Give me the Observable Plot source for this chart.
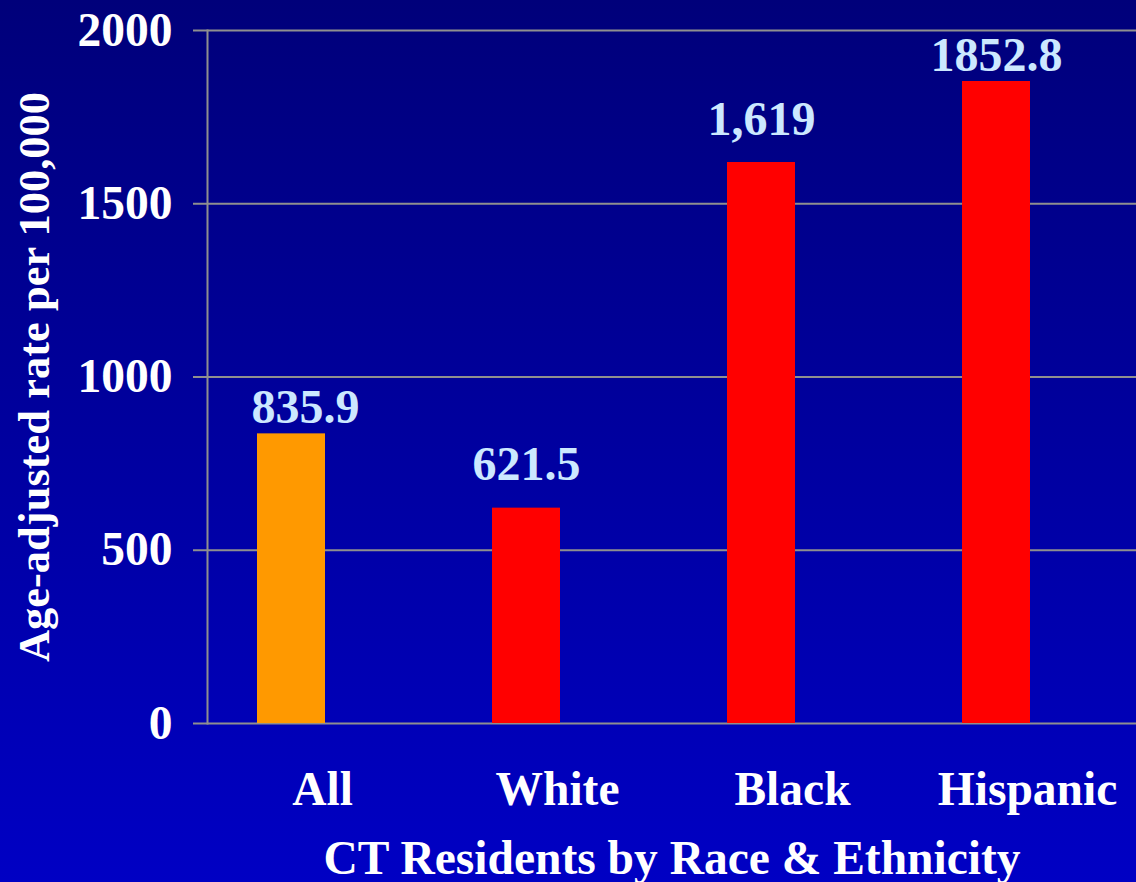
<!DOCTYPE html>
<html>
<head>
<meta charset="utf-8">
<script src="https://cdn.jsdelivr.net/npm/d3@7"></script>
<script src="https://cdn.jsdelivr.net/npm/@observablehq/plot@0.6"></script>
<style>
  html, body { margin: 0; padding: 0; }
  body { width: 1136px; height: 882px; overflow: hidden;
         background: linear-gradient(to bottom, #00007a 0%, #0000c4 100%); }
  #chart svg { display: block; background: transparent; }
</style>
</head>
<body>
<div id="chart"></div>
<script>
const categories = ["All", "White", "Black", "Hispanic"];
const values = [835.9, 621.5, 1619, 1852.8];
const valueLabels = ["835.9", "621.5", "1,619", "1852.8"];
const barColors = ["#ff9900", "#ff0000", "#ff0000", "#ff0000"];
const yTicks = [0, 500, 1000, 1500, 2000];

const data = categories.map((c, i) => ({cat: c, value: values[i], label: valueLabels[i], color: barColors[i]}));

const font = "'Liberation Serif', 'Times New Roman', serif";
const labelStyle = {x: "cat", y: "value", text: "label", lineAnchor: "bottom",
  fill: "#cce8ff", fontSize: 48, fontWeight: "bold"};
const chart = Plot.plot({
  width: 1136,
  height: 882,
  marginTop: 30,
  marginBottom: 159,
  marginLeft: 207,
  marginRight: 0,
  style: {fontFamily: font, fontWeight: "bold", fontSize: "47.5px", color: "white", background: "transparent", overflow: "visible"},
  x: {domain: categories, range: [174, 1114], paddingInner: 0.71, paddingOuter: 0.355},
  y: {domain: [0, 2000]},
  marks: [
    Plot.gridY(yTicks, {stroke: "#8f8f8f", strokeOpacity: 1, strokeWidth: 2}),
    Plot.frame({anchor: "left", stroke: "#8f8f8f", strokeWidth: 2}),
    Plot.barY(data, {x: "cat", y: "value", fill: "color"}),
    Plot.axisY({ticks: yTicks, tickSize: 14, tickPadding: 21, stroke: "#8f8f8f", strokeWidth: 2,
      label: null, tickFormat: d => String(d), fill: "white"}),
    Plot.axisY({ticks: [], tickSize: 0, label: "Age-adjusted rate per 100,000", labelAnchor: "center",
      labelArrow: "none", labelOffset: 190, fontSize: 44.5, fill: "white"}),
    Plot.axisX({tickSize: 0, tickPadding: 48, dx: 31, label: null, fill: "white"}),
    Plot.axisX({ticks: [], tickSize: 0, label: "CT Residents by Race & Ethnicity", dx: 11,
      labelAnchor: "center", labelArrow: "none", labelOffset: 150, fill: "white"}),
    Plot.text(data.filter(d => d.cat === "All"), {...labelStyle, dy: -11, dx: 14}),
    Plot.text(data.filter(d => d.cat === "White" || d.cat === "Black"), {...labelStyle, dy: -28}),
    Plot.text(data.filter(d => d.cat === "Hispanic"), {...labelStyle, dy: -11})
  ]
});
document.getElementById("chart").appendChild(chart);
</script>
</body>
</html>
